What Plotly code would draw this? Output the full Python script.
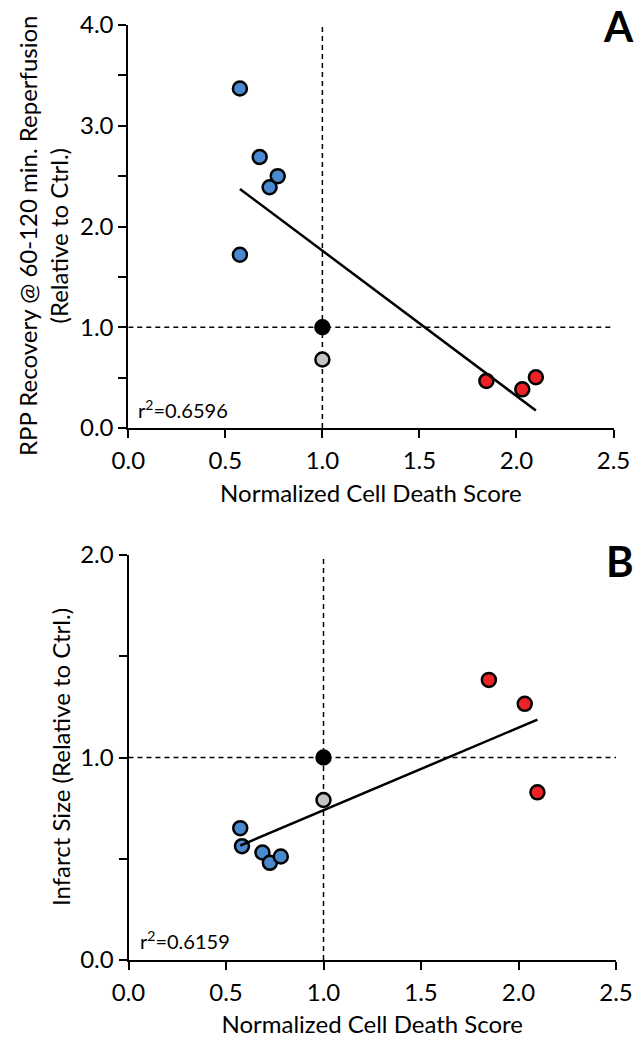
import plotly.graph_objects as go

# ---------------- data ----------------
# Panel A: RPP recovery vs normalized cell death score
a_blue_x = [0.575, 0.677, 0.770, 0.728, 0.575]
a_blue_y = [3.37, 2.69, 2.50, 2.39, 1.72]
a_ctrl_x = [1.0]
a_ctrl_y = [1.0]
a_gray_x = [1.0]
a_gray_y = [0.68]
a_red_x = [1.845, 2.03, 2.10]
a_red_y = [0.467, 0.384, 0.504]
a_fit_slope = -1.442
a_fit_intercept = 3.202
a_r2_text = "r<sup>2</sup>=0.6596"

# Panel B: infarct size vs normalized cell death score
b_blue_x = [0.573, 0.582, 0.687, 0.725, 0.781]
b_blue_y = [0.651, 0.562, 0.531, 0.480, 0.511]
b_ctrl_x = [1.0]
b_ctrl_y = [1.0]
b_gray_x = [1.0]
b_gray_y = [0.79]
b_red_x = [1.848, 2.032, 2.097]
b_red_y = [1.383, 1.265, 0.828]
b_fit_slope = 0.408
b_fit_intercept = 0.3315
b_r2_text = "r<sup>2</sup>=0.6159"

ref_x = 1.0
ref_y = 1.0

x_tickvals = [0.0, 0.5, 1.0, 1.5, 2.0, 2.5]
a_y_tickvals = [0.0, 1.0, 2.0, 3.0, 4.0]
b_y_tickvals = [0.0, 1.0, 2.0]

x_title = "Normalized Cell Death Score"
a_y_title = "RPP Recovery @ 60-120 min. Reperfusion<br>(Relative to Ctrl.)"
b_y_title = "Infarct Size (Relative to Ctrl.)"

# ---------------- styling ----------------
W, H = 634, 1038
FONT = "Lato"
BLUE = "#4a89d0"
RED = "#ec2226"
GRAY = "#c4c4c4"
BLACK = "#000000"
MSIZE = 14
MLINE = 2.5

fig = go.Figure()


def add_panel(xa, ya, bx, by, cx, cy, gx, gy, rx, ry, slope, intercept):
    for xs, ys, col in [(bx, by, BLUE), (gx, gy, GRAY), (cx, cy, BLACK), (rx, ry, RED)]:
        fig.add_trace(go.Scatter(
            x=xs, y=ys, mode="markers", xaxis=xa, yaxis=ya, showlegend=False,
            marker=dict(size=MSIZE, color=col, line=dict(color=BLACK, width=MLINE)),
        ))
    all_x = bx + cx + gx + rx
    x0, x1 = min(all_x), max(all_x)
    fig.add_trace(go.Scatter(
        x=[x0, x1], y=[slope * x0 + intercept, slope * x1 + intercept],
        mode="lines", xaxis=xa, yaxis=ya, showlegend=False,
        line=dict(color=BLACK, width=2.5),
    ))


add_panel("x", "y", a_blue_x, a_blue_y, a_ctrl_x, a_ctrl_y, a_gray_x, a_gray_y,
          a_red_x, a_red_y, a_fit_slope, a_fit_intercept)
add_panel("x2", "y2", b_blue_x, b_blue_y, b_ctrl_x, b_ctrl_y, b_gray_x, b_gray_y,
          b_red_x, b_red_y, b_fit_slope, b_fit_intercept)


def px_x(p):
    return p / W


def px_y(p):
    return 1 - p / H


axis_common = dict(
    showline=True, linewidth=2, linecolor=BLACK, mirror=False, automargin=False,
    ticks="outside", ticklen=8, tickwidth=2, tickcolor=BLACK,
    showgrid=False, zeroline=False, tickformat=".1f",
    tickfont=dict(family=FONT, size=24, color=BLACK),
)

minor_y = dict(dtick=0.5, ticks="outside", ticklen=8, tickwidth=2, tickcolor=BLACK, showgrid=False)

fig.update_layout(
    template="none",
    width=W, height=H,
    margin=dict(l=0, r=0, t=0, b=0, pad=0),
    paper_bgcolor="white", plot_bgcolor="white",
    font=dict(family=FONT, color=BLACK),
    xaxis=dict(axis_common, domain=[px_x(128.3), px_x(613.5)], anchor="y",
               range=[0, 2.5], tickvals=x_tickvals, ticklabelstandoff=2,
               title=dict(text=x_title, font=dict(family=FONT, size=24), standoff=12)),
    yaxis=dict(axis_common, domain=[px_y(428), px_y(25)], anchor="x",
               range=[0, 4], tickvals=a_y_tickvals, minor=minor_y),
    xaxis2=dict(axis_common, domain=[px_x(128.5), px_x(616)], anchor="y2",
                range=[0, 2.5], tickvals=x_tickvals, ticklabelstandoff=2,
                title=dict(text=x_title, font=dict(family=FONT, size=24), standoff=12)),
    yaxis2=dict(axis_common, domain=[px_y(960), px_y(555)], anchor="x2",
                range=[0, 2], tickvals=b_y_tickvals, minor=minor_y),
)

# reference dashed lines
dash = dict(color=BLACK, width=1.5, dash="5px,4px")
fig.add_shape(type="line", xref="x", yref="y", x0=ref_x, x1=ref_x, y0=0, y1=4, line=dash, layer="below")
fig.add_shape(type="line", xref="x", yref="y", x0=0, x1=2.5, y0=ref_y, y1=ref_y, line=dash, layer="below")
fig.add_shape(type="line", xref="x2", yref="y2", x0=ref_x, x1=ref_x, y0=0, y1=2, line=dash, layer="below")
fig.add_shape(type="line", xref="x2", yref="y2", x0=0, x1=2.5, y0=ref_y, y1=ref_y, line=dash, layer="below")

ann = []
# y-axis titles
ann.append(dict(text=a_y_title, x=px_x(43), y=px_y(236), xref="paper", yref="paper",
                textangle=-90, showarrow=False, xanchor="center", yanchor="middle",
                font=dict(family=FONT, size=24, color=BLACK)))
ann.append(dict(text=b_y_title, x=px_x(60), y=px_y(757), xref="paper", yref="paper",
                textangle=-90, showarrow=False, xanchor="center", yanchor="middle",
                font=dict(family=FONT, size=24, color=BLACK)))
# r^2 labels
ann.append(dict(text=a_r2_text, x=px_x(136), y=px_y(409), xref="paper", yref="paper",
                showarrow=False, xanchor="left", yanchor="middle",
                font=dict(family=FONT, size=20, color=BLACK)))
ann.append(dict(text=b_r2_text, x=px_x(138), y=px_y(940), xref="paper", yref="paper",
                showarrow=False, xanchor="left", yanchor="middle",
                font=dict(family=FONT, size=20, color=BLACK)))
# panel letters
ann.append(dict(text="<b>A</b>", x=px_x(618), y=px_y(26), xref="paper", yref="paper",
                showarrow=False, xanchor="center", yanchor="middle",
                font=dict(family=FONT, size=42, color=BLACK)))
ann.append(dict(text="<b>B</b>", x=px_x(620), y=px_y(561), xref="paper", yref="paper",
                showarrow=False, xanchor="center", yanchor="middle",
                font=dict(family=FONT, size=42, color=BLACK)))
fig.update_layout(annotations=ann)

# remove the default page margin so the 634x1038 figure fills the window exactly
fig.write_html(
    "out.html",
    config={"displayModeBar": False},
    post_script="document.body.style.margin='0';document.body.style.overflow='hidden';",
)
